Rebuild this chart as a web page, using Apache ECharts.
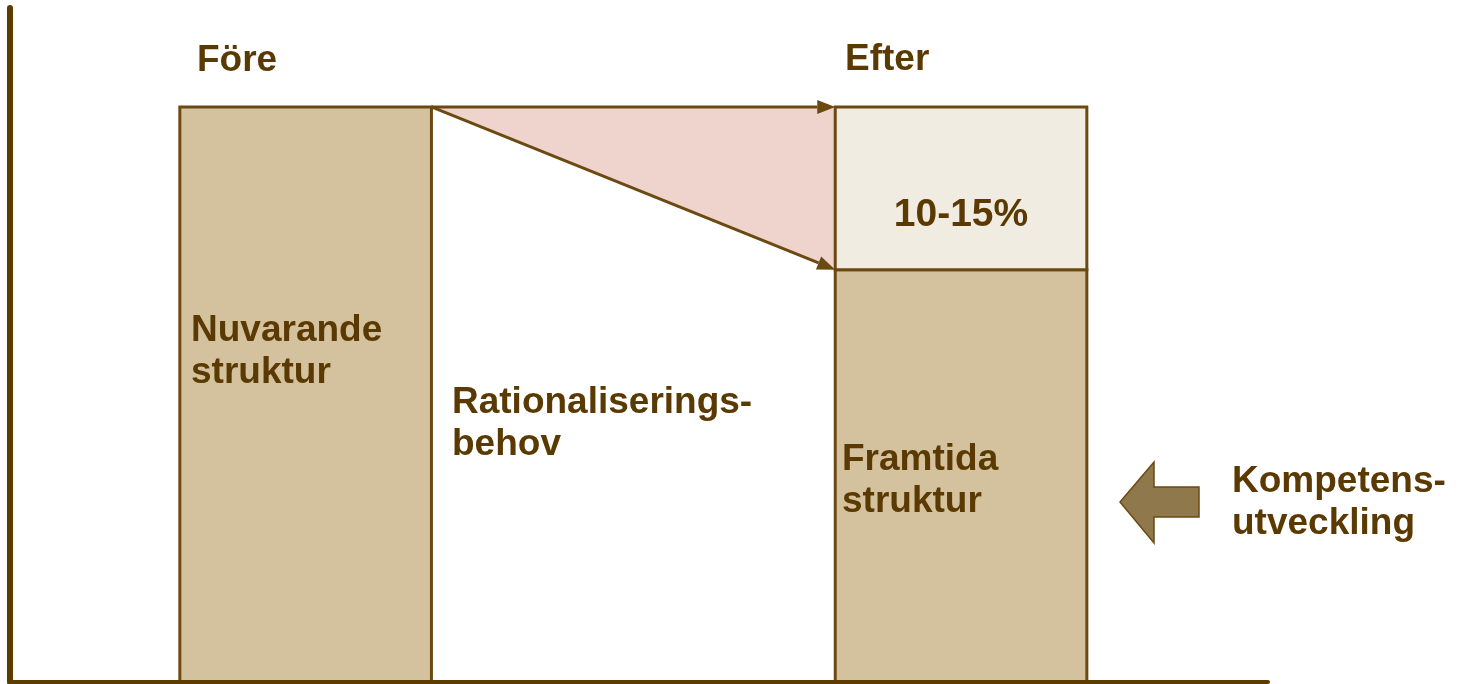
<!DOCTYPE html>
<html>
<head>
<meta charset="utf-8">
<script src="https://cdn.jsdelivr.net/npm/echarts@6/dist/echarts.min.js"></script>
<style>
html, body { margin: 0; padding: 0; background: #fff; }
#chart { width: 1459px; height: 684px; }
</style>
</head>
<body>
<div id="chart"></div>
<script>
// stages and stacked values (percent of today's structure)
var stages = ['Före', 'Efter'];
var stageStart = [1.35, 6.56];   // x position on the value axis (0-10)
var stageWidth = 2;
var nuvarande = [100, 0];        // Nuvarande struktur
var framtida = [0, 71.7];        // Framtida struktur
var rational = [0, 28.3];        // Rationaliseringsbehov (10-15%)

var textColor = '#5A3A02';
var edgeColor = '#6B4A12';
var axisColor = '#5E3C00';
var fills = ['#D4C29E', '#D4C29E', '#F1ECE1'];
var font = 'bold 37px "Liberation Sans", Arial, sans-serif';

var chart = echarts.init(document.getElementById('chart'));

// stacked rectangles: [x0, x1, yBase, yTop, fillIndex]
var segs = [];
stages.forEach(function (s, i) {
    var base = 0;
    [nuvarande, framtida, rational].forEach(function (arr, k) {
        if (arr[i] > 0) {
            segs.push([stageStart[i], stageStart[i] + stageWidth, base, base + arr[i], k]);
            base += arr[i];
        }
    });
});

var fromX = stageStart[0] + stageWidth;
var toX = stageStart[1];
var total = nuvarande[0];
var wedge = [[fromX, toX, total, framtida[1]]];
var arrows = [
    [fromX, total, toX, total],
    [fromX, total, toX, framtida[1]]
];

function textEl(txt, x, y, align, f) {
    return {
        type: 'text', x: x, y: y, z: 100,
        style: {
            text: txt, font: f || font, fill: textColor,
            align: align || 'left', verticalAlign: 'middle', lineHeight: 42
        }
    };
}

option = {
    animation: false,
    grid: { left: 10, right: 191, top: 8, bottom: 2, outerBoundsMode: 'none' },
    xAxis: {
        type: 'value', min: 0, max: 10, z: 10,
        axisLine: { show: true, lineStyle: { color: axisColor, width: 4 } },
        axisTick: { show: false }, axisLabel: { show: false }, splitLine: { show: false }
    },
    yAxis: {
        type: 'value', min: 0, max: 117.2, z: 10,
        axisLine: { show: true, lineStyle: { color: axisColor, width: 6 } },
        axisTick: { show: false }, axisLabel: { show: false }, splitLine: { show: false }
    },
    series: [
        {
            type: 'custom', z: 1,
            data: wedge,
            renderItem: function (params, api) {
                var a = api.coord([api.value(0), api.value(2)]);
                var b = api.coord([api.value(1), api.value(2)]);
                var c = api.coord([api.value(1), api.value(3)]);
                return {
                    type: 'polygon',
                    shape: { points: [a, b, c] },
                    style: { fill: '#EFD3CD' }
                };
            }
        },
        {
            type: 'custom', z: 2,
            data: segs,
            renderItem: function (params, api) {
                var p0 = api.coord([api.value(0), api.value(3)]);
                var p1 = api.coord([api.value(1), api.value(2)]);
                return {
                    type: 'rect',
                    shape: { x: p0[0], y: p0[1], width: p1[0] - p0[0], height: p1[1] - p0[1] },
                    style: { fill: fills[api.value(4)], stroke: edgeColor, lineWidth: 3 }
                };
            }
        },
        {
            type: 'custom', z: 3,
            data: arrows,
            renderItem: function (params, api) {
                var p0 = api.coord([api.value(0), api.value(1)]);
                var p1 = api.coord([api.value(2), api.value(3)]);
                var dx = p1[0] - p0[0], dy = p1[1] - p0[1];
                var len = Math.sqrt(dx * dx + dy * dy);
                var ux = dx / len, uy = dy / len;
                var hl = 18, hw = 7;
                var bx = p1[0] - ux * hl, by = p1[1] - uy * hl;
                return {
                    type: 'group',
                    children: [
                        {
                            type: 'line',
                            shape: { x1: p0[0], y1: p0[1], x2: bx, y2: by },
                            style: { stroke: edgeColor, lineWidth: 3 }
                        },
                        {
                            type: 'polygon',
                            shape: { points: [p1, [bx - uy * hw, by + ux * hw], [bx + uy * hw, by - ux * hw]] },
                            style: { fill: edgeColor }
                        }
                    ]
                };
            }
        }
    ],
    graphic: [
        textEl('Före', 197, 61),
        textEl('Efter', 845, 60),
        textEl('Nuvarande\nstruktur', 191, 352),
        textEl('Rationaliserings-\nbehov', 452, 424),
        textEl('Framtida\nstruktur', 842, 481),
        textEl('10-15%', 961, 215, 'center', 'bold 39px "Liberation Sans", Arial, sans-serif'),
        textEl('Kompetens-\nutveckling', 1232, 503),
        {
            type: 'polygon', z: 100,
            shape: { points: [[1120, 502], [1154, 462], [1154, 487], [1199, 487], [1199, 517], [1154, 517], [1154, 543]] },
            style: { fill: '#8F784B', stroke: edgeColor, lineWidth: 1.5 }
        }
    ]
};
chart.setOption(option);
</script>
</body>
</html>
